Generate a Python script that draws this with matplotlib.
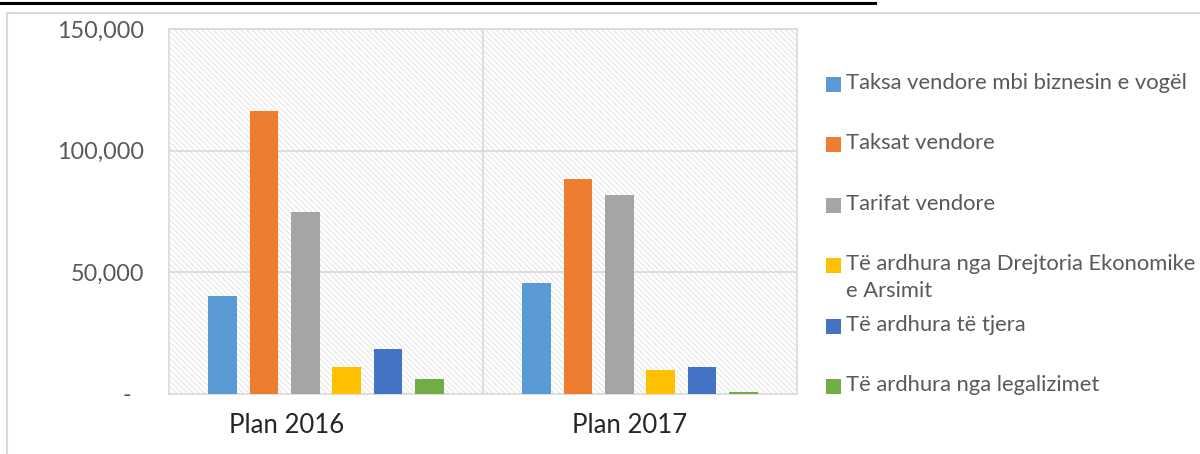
import matplotlib
matplotlib.use("Agg")
import matplotlib.pyplot as plt
from matplotlib.patches import Rectangle
from matplotlib.lines import Line2D
from matplotlib.ticker import FuncFormatter

categories = ["Plan 2016", "Plan 2017"]
series = [
    "Taksa vendore mbi biznesin e vogël",
    "Taksat vendore",
    "Tarifat vendore",
    "Të ardhura nga Drejtoria Ekonomike\ne Arsimit",
    "Të ardhura të tjera",
    "Të ardhura nga legalizimet",
]
values = [
    [40200, 45800],
    [116400, 88400],
    [74700, 81600],
    [10900, 9800],
    [18400, 10900],
    [6300, 1000],
]
colors = ["#5B9BD5", "#ED7D31", "#A5A5A5", "#FFC000", "#4472C4", "#70AD47"]
yticks = [0, 50000, 100000, 150000]

W, H = 1200, 454
plt.rcParams["font.family"] = ["Lato", "DejaVu Sans"]
plt.rcParams["hatch.linewidth"] = 0.6
fig = plt.figure(figsize=(W / 100, H / 100), dpi=100)

# page-like decorations
fig.add_artist(Line2D([0, 875 / W], [1 - 3 / H, 1 - 3 / H], color="black", lw=2.2))
fig.add_artist(Line2D([7 / W, 7 / W, 1.0], [0, 1 - 13 / H, 1 - 13 / H], color="#d9d9d9", lw=1.5))

ax = fig.add_axes([169 / W, 1 - 394 / H, (797 - 169) / W, (394 - 29) / H])
ax.set_xlim(-0.5, 1.5)
ax.set_ylim(0, 150000)

# hatched background
bg = Rectangle((0, 0), 1, 1, transform=ax.transAxes, facecolor="white",
               edgecolor="#dedede", hatch="\\" * 6, lw=0, zorder=0)
ax.add_patch(bg)

pitch = 0.132
bw = 0.091
n = len(series)
for i, (name, vals, c) in enumerate(zip(series, values, colors)):
    xs = [k + (i - (n - 1) / 2) * pitch for k in range(len(categories))]
    ax.bar(xs, vals, width=bw, color=c, zorder=3)

for y in yticks[1:]:
    ax.axhline(y, color="#d9d9d9", lw=1.2, zorder=1)
ax.axvline(0.5, color="#d9d9d9", lw=1.2, zorder=1)
for s in ax.spines.values():
    s.set_color("#d9d9d9")
    s.set_linewidth(1.2)

ax.set_yticks(yticks)
ax.yaxis.set_major_formatter(FuncFormatter(lambda v, p: "-  " if v == 0 else f"{int(v):,}"))
ax.tick_params(axis="y", length=0, pad=18, labelsize=16.8, labelcolor="#595959")

label_pos = [-0.124, 0.968]
ax.set_xticks(label_pos)
ax.set_xticklabels(categories)
ax.tick_params(axis="x", length=0, pad=14, labelsize=18.5, labelcolor="#262626")

# legend
y0 = 84.5
dy = 60.4
for i, (name, c) in enumerate(zip(series, colors)):
    yc = y0 + i * dy
    fig.add_artist(Rectangle((826 / W, 1 - (yc + 7.5) / H), 15 / W, 15 / H,
                             transform=fig.transFigure, facecolor=c, edgecolor="none"))
    fig.text(846 / W, 1 - (yc - 11.5) / H, name, ha="left", va="top",
             fontsize=15.8, color="#595959", linespacing=1.42)

fig.savefig("out.png", dpi=100)
